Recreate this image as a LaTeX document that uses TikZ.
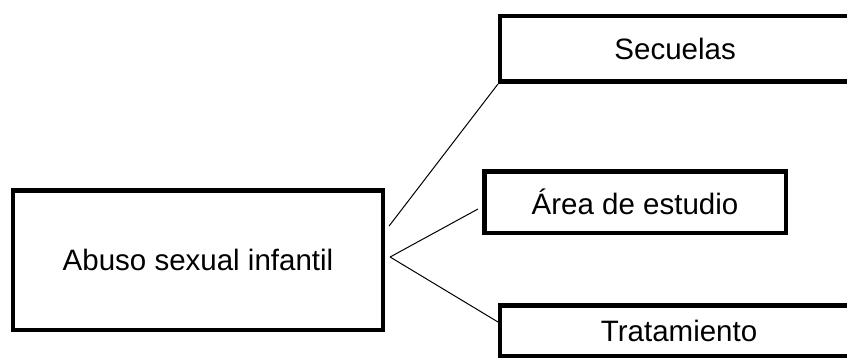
\documentclass[tikz,border=0pt]{standalone}
\usepackage{fontspec}
\setmainfont{Liberation Sans}
\usepackage{tikz}

\begin{document}
\begin{tikzpicture}[x=1pt,y=-1pt,
  tema/.style={draw,line width=4.5pt,rectangle,inner sep=0pt,font=\fontsize{29.5}{35}\selectfont},
  rama/.style={line width=1pt}]
\useasboundingbox (0,0) rectangle (847,361);
  \node[tema,minimum width=369.7pt,minimum height=139.5pt] (abuso) at (198,260) {Abuso sexual infantil};
  \node[tema,minimum width=349.75pt,minimum height=65.5pt] (secuelas) at (675.1,49) {Secuelas};
  \node[tema,minimum width=301.5pt,minimum height=61.5pt] (area) at (635,202) {Área de estudio};
  \node[tema,minimum width=357.75pt,minimum height=50.5pt] (trat) at (679.1,330.5) {Tratamiento};

\coordinate (fork) at ([xshift=5pt,yshift=3pt]abuso.east);
\draw[rama] ([xshift=4pt,yshift=34pt]abuso.east) -- (secuelas.south west);
\draw[rama] (fork) -- ([xshift=-4pt,yshift=-7pt]area.west);
\draw[rama] (fork) -- ([yshift=8.5pt]trat.west);

\end{tikzpicture}
\end{document}
